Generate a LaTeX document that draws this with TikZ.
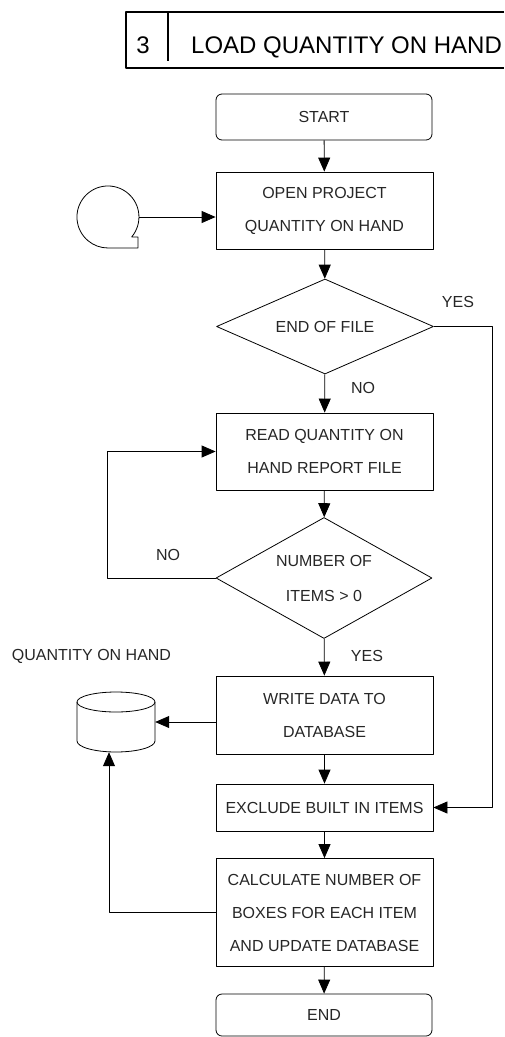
\documentclass[tikz,border=0pt]{standalone}
\usepackage{fontspec}
\setmainfont{Liberation Sans}
\usepackage{tikz}
\usetikzlibrary{shapes.geometric, arrows.meta}
\newcommand\chartfont{\fontsize{16}{33}\selectfont}
\tikzstyle{arrow} = [line width=0.8pt,-{Triangle[length=14pt,width=12pt]}]
\tikzstyle{startstop} = [rectangle, rounded corners=6pt, draw, line width=0.8pt, minimum width=216pt, minimum height=46pt, inner sep=0pt, text=black!85, font=\chartfont]
\tikzstyle{process} = [rectangle, draw, line width=0.8pt, minimum width=217pt, inner sep=0pt, align=center, text=black!85, font=\chartfont]
\tikzstyle{decision} = [diamond, draw, line width=0.8pt, inner sep=0pt, align=center, text=black!85, font=\chartfont]
\tikzstyle{tag} = [inner sep=0pt, text=black!85, font=\chartfont]

\begin{document}
\begin{tikzpicture}[line join=round,x=1pt,y=-1pt]
                \useasboundingbox (0,0) rectangle (504,1037);
                % heading
                \draw [line width=1.4pt] (504,12) -- (126,12) -- (126,68) -- (504,68);
                \draw [line width=1.2pt] (168,12) -- (168,61);
                \node [anchor=base, font=\fontsize{24}{28}\selectfont] (num) at (143,53) {3};
                \node [anchor=base west, inner sep=0pt, font=\fontsize{24}{28}\selectfont] (title) at (191,53) {LOAD QUANTITY ON HAND};
                % main column
                \node [startstop] (start) at (324,117) {START};
                \node [process, minimum height=77pt] (open) at (324.5,210.5) {OPEN PROJECT\\QUANTITY ON HAND};
                \node [decision, minimum width=217pt, minimum height=95pt, aspect=2.28] (eof) at (325,326.5) {END OF FILE};
                \node [process, minimum height=77pt] (read) at (324.5,451.5) {READ QUANTITY ON\\HAND REPORT FILE};
                \node [decision, minimum width=216pt, minimum height=121pt, aspect=1.8, font=\fontsize{16}{35}\selectfont] (items) at (324,578) {NUMBER OF\\ITEMS > 0};
                \node [process, minimum height=78pt] (write) at (324.5,715) {WRITE DATA TO\\DATABASE};
                \node [process, minimum height=47pt] (excl) at (324.5,807.5) {EXCLUDE BUILT IN ITEMS};
                \node [process, minimum height=108pt] (calc) at (324.5,912.5) {CALCULATE NUMBER OF\\BOXES FOR EACH ITEM\\AND UPDATE DATABASE};
                \node [startstop, minimum height=42pt] (end) at (324,1015) {END};
                % tape
                \node [circle, minimum size=62pt, inner sep=0pt] (tape) at (108,217) {};
                \draw [line width=0.8pt] (131.7,236.9) arc[start angle=-40, end angle=270, radius=31pt] -- (138,248) -- (138,237) -- cycle;
                % database
                \node [minimum width=78pt, minimum height=60pt, inner sep=0pt] (db) at (116,722) {};
                \draw [line width=0.8pt] (116,702) ellipse [x radius=39pt, y radius=10pt];
                \draw [line width=0.8pt] (77,702) -- (77,741) arc[start angle=180, end angle=360, x radius=39pt, y radius=11pt] -- (155,702);
                \node [tag] (dbname) at (91.5,656) {QUANTITY ON HAND};
                % labels
                \node [tag] (yesa) at (458,302) {YES};
                \node [tag] (noa) at (363,388) {NO};
                \node [tag] (nob) at (168,555) {NO};
                \node [tag] (yesb) at (367,656) {YES};
                % connectors
                \draw [arrow] (start) -- (open);
                \draw [arrow] (tape.east) -- (tape.east -| open.west);
                \draw [arrow] (open) -- (eof);
                \draw [arrow] (eof.east) -- ++(58,0) |- (excl.east);
                \draw [arrow] (eof) -- (read);
                \draw [arrow] (read) -- (items);
                \draw [arrow] (items.west) -- ++(-108,0) |- (read.west);
                \draw [arrow] (items) -- (write);
                \draw [arrow] (db.east -| write.west) -- (db.east);
                \draw [arrow] (write) -- (excl);
                \draw [arrow] (excl) -- (calc);
                \draw [arrow] (calc.west) -| ([xshift=-7pt]db.south);
                \draw [arrow] (calc) -- (end);
\end{tikzpicture}
\end{document}
